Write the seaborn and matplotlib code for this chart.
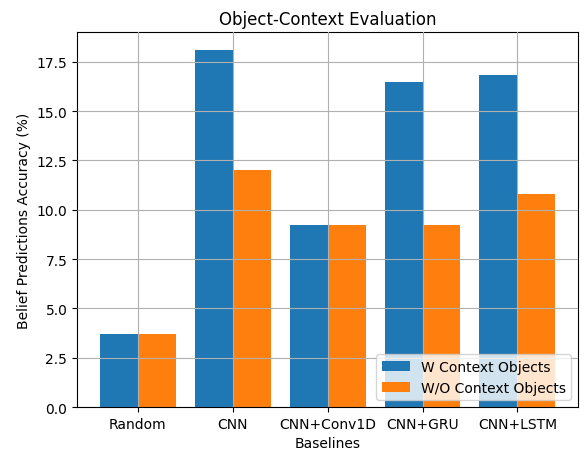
import pandas as pd
import matplotlib
matplotlib.use("Agg")
import matplotlib.pyplot as plt
import seaborn as sns

baselines = ['Random', 'CNN', 'CNN+Conv1D', 'CNN+GRU', 'CNN+LSTM']
with_context = [3.7, 18.1, 9.25, 16.45, 16.85]
without_context = [3.7, 12.0, 9.25, 9.25, 10.8]
series_names = ['W Context Objects', 'W/O Context Objects']

df = pd.DataFrame({
    'Baselines': baselines * 2,
    'Accuracy': with_context + without_context,
    'Setting': [series_names[0]] * len(baselines) + [series_names[1]] * len(baselines),
})

fig = plt.figure(figsize=(5.84, 4.52), dpi=100)
ax = fig.add_axes([0.132, 0.097, 0.858, 0.83])

sns.barplot(data=df, x='Baselines', y='Accuracy', hue='Setting', order=baselines,
            hue_order=series_names, palette=['#1f77b4', '#ff7f0e'], saturation=1,
            width=0.8, ax=ax, errorbar=None)

ax.grid(True, color='#b0b0b0', linewidth=0.8)
ax.set_axisbelow(False)
ax.margins(x=0.05, y=0.05)
ax.set_xlim(-0.64, 4.64)
ax.set_title('Object-Context Evaluation')
ax.set_xlabel('Baselines')
ax.set_ylabel('Belief Predictions Accuracy (%)')
ax.legend(loc='lower right', title=None)

fig.savefig('out.png', dpi=100)
